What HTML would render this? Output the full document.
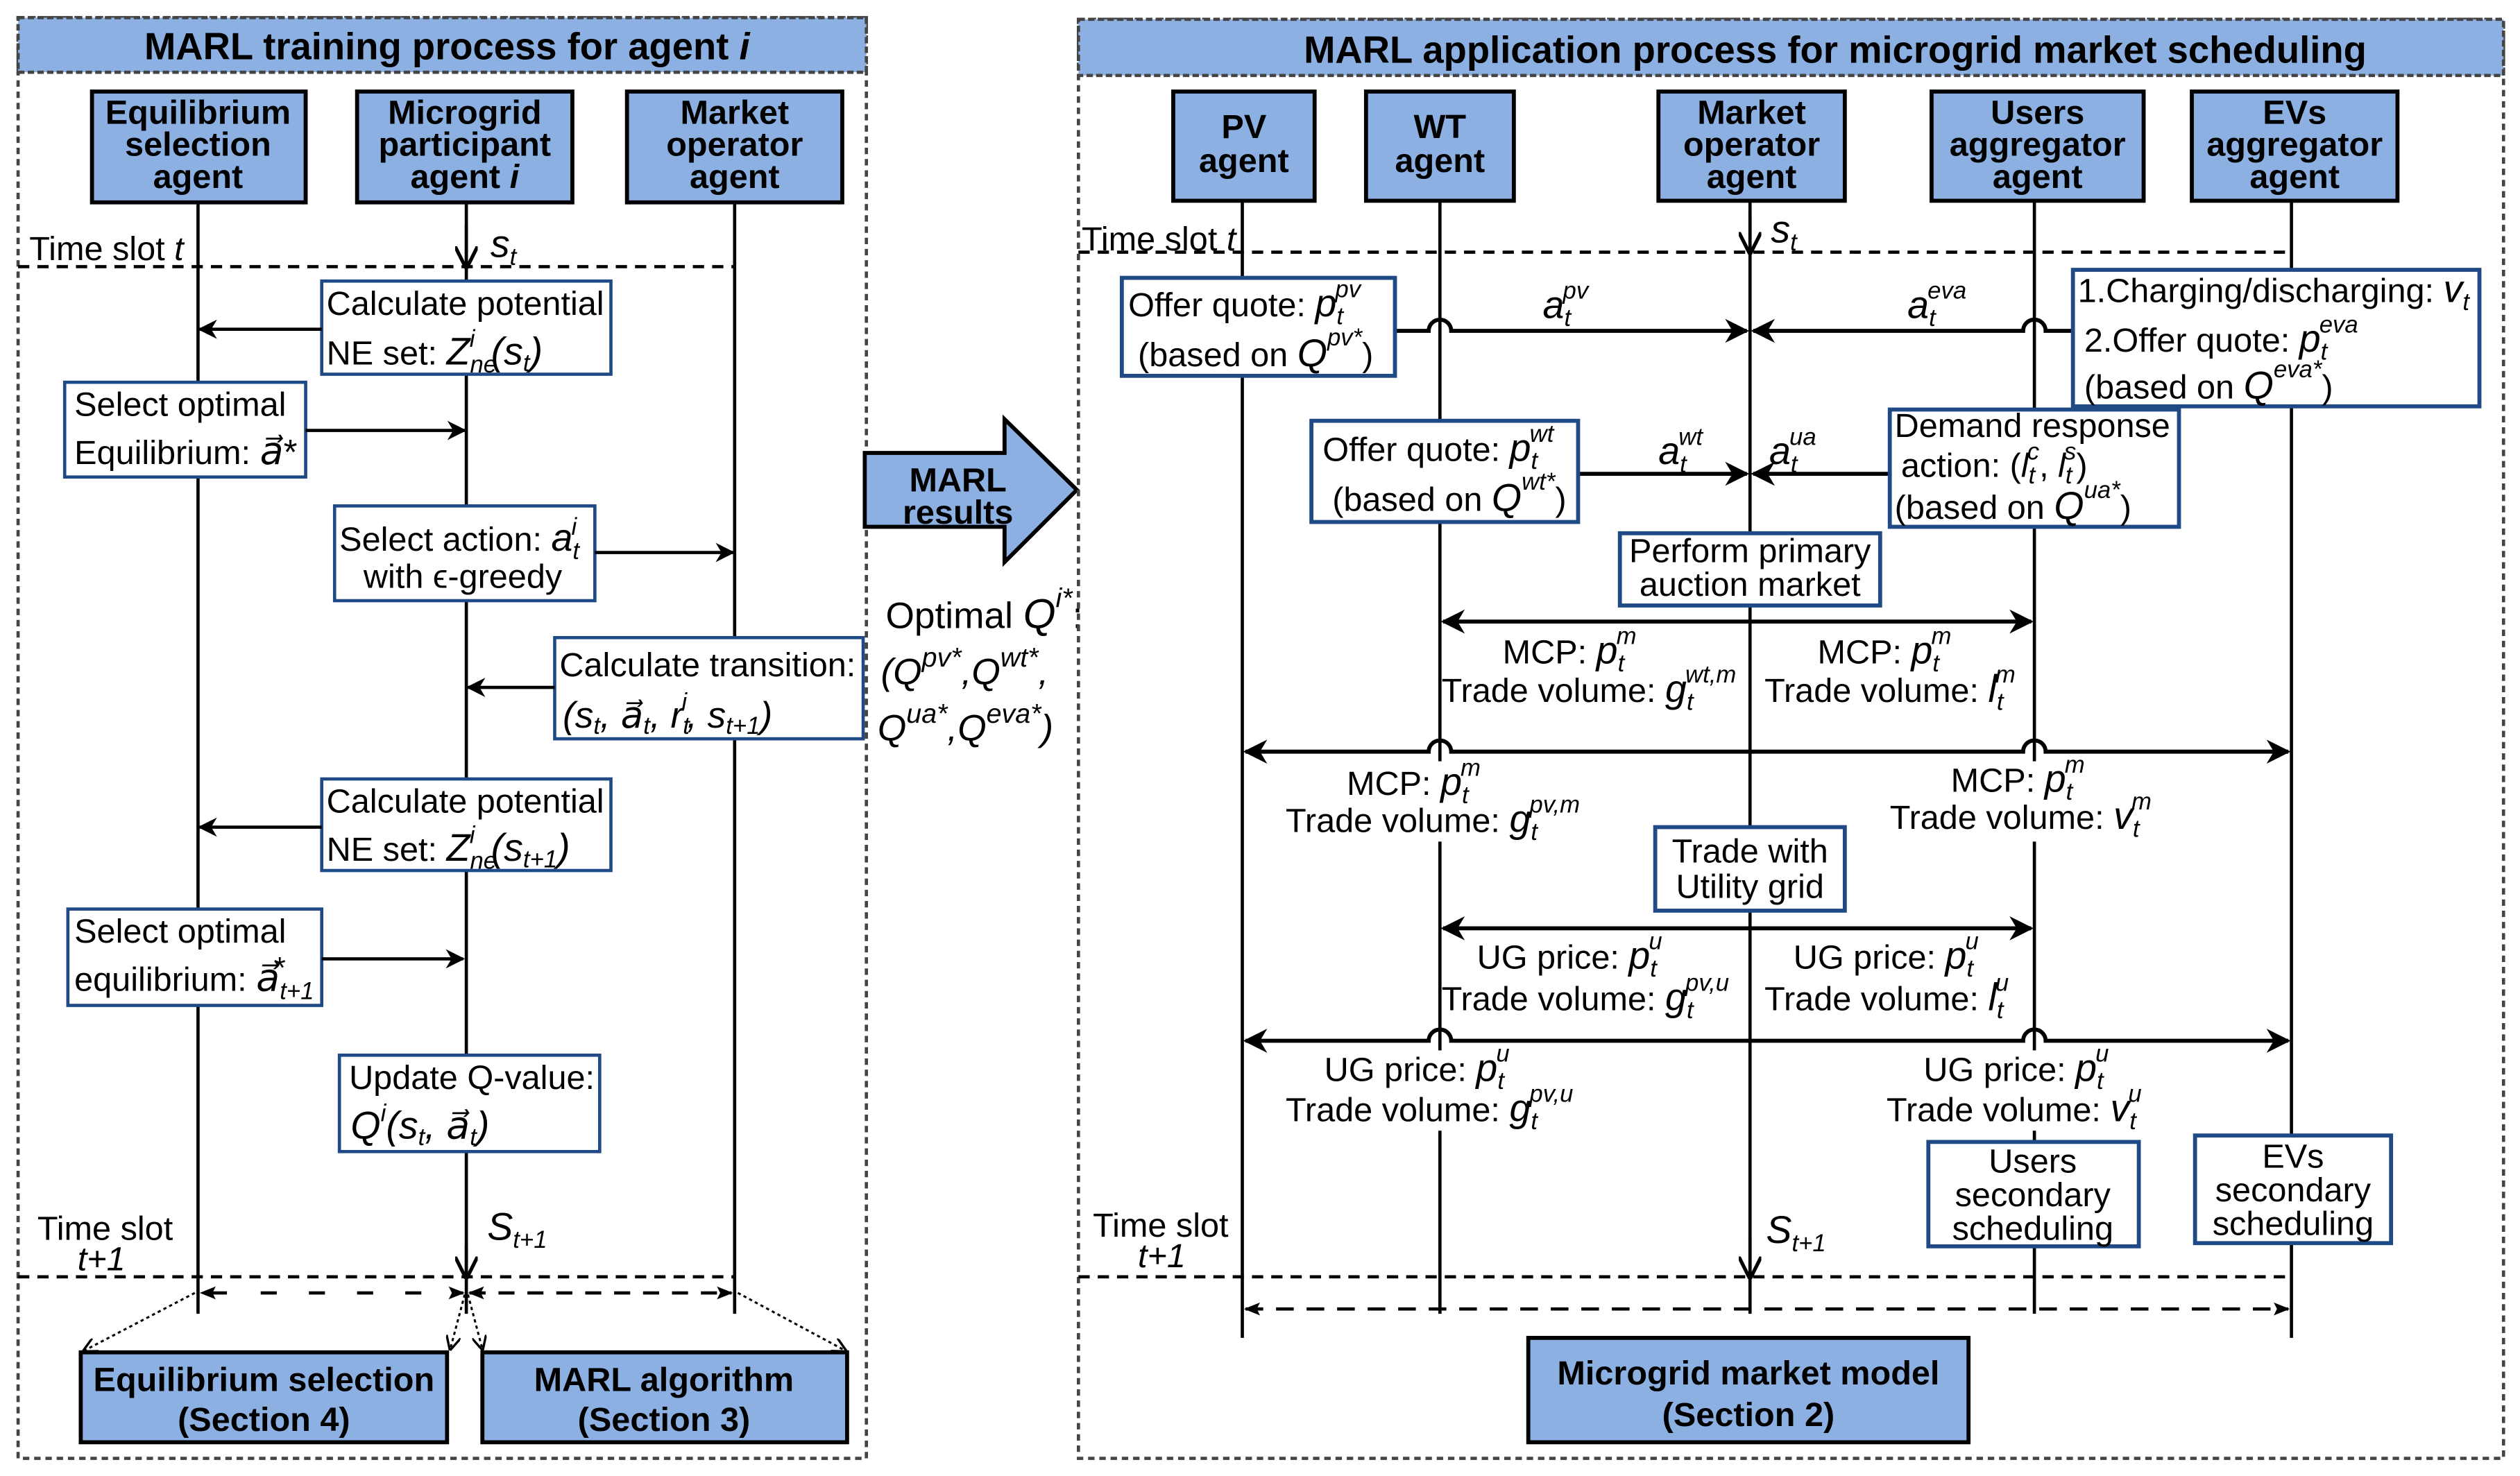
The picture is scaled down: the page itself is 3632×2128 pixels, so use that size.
<!DOCTYPE html>
<html><head><meta charset="utf-8"><style>
html,body{margin:0;padding:0;background:#fff;}
svg{display:block;}
text{font-family:"Liberation Sans",Arial,sans-serif;fill:#000;}
.b{font-weight:bold;}
.t{font-size:21px;}
.i{font-style:italic;}
.s{font-size:15px;font-style:italic;}
</style></head><body>
<svg width="3632" height="2128" viewBox="0 0 1568 919" xmlns="http://www.w3.org/2000/svg">
<defs>
<marker id="ar" viewBox="0 0 10 10" refX="9" refY="5" markerWidth="6" markerHeight="6" orient="auto-start-reverse"><path d="M0,0 L10,5 L0,10 L3,5 z" fill="#000"/></marker>
<marker id="vr" viewBox="0 0 10 10" refX="9" refY="5" markerWidth="7" markerHeight="7" orient="auto"><path d="M0,0 L10,5 L0,10" fill="none" stroke="#000" stroke-width="1.6"/></marker>
<marker id="sa" viewBox="0 0 10 10" refX="9" refY="5" markerWidth="5" markerHeight="5" orient="auto-start-reverse"><path d="M0,1 L10,5 L0,9 L2,5 z" fill="#000"/></marker>
</defs>
<rect width="1568" height="919" fill="#fff"/>

<!-- ===== LEFT PANEL ===== -->
<rect x="11" y="11" width="528" height="897" fill="none" stroke="#444" stroke-width="2" stroke-dasharray="4,3"/>
<rect x="11" y="11" width="528" height="34" fill="#8DB0E2" stroke="#444" stroke-width="2" stroke-dasharray="4,2"/>
<text x="278" y="37" text-anchor="middle" class="b" font-size="23.5">MARL training process for agent <tspan class="i">i</tspan></text>

<g fill="#8DB0E2" stroke="#000" stroke-width="2.5">
<rect x="57" y="57" width="133" height="69"/>
<rect x="222" y="57" width="134" height="69"/>
<rect x="390" y="57" width="134" height="69"/>
</g>
<g class="b" font-size="21" text-anchor="middle">
<text x="123" y="77">Equilibrium</text><text x="123" y="97">selection</text><text x="123" y="117">agent</text>
<text x="289" y="77">Microgrid</text><text x="289" y="97">participant</text><text x="289" y="117">agent <tspan class="i">i</tspan></text>
<text x="457" y="77">Market</text><text x="457" y="97">operator</text><text x="457" y="117">agent</text>
</g>
<g stroke="#000" stroke-width="2">
<line x1="123" y1="126" x2="123" y2="818"/>
<line x1="290" y1="126" x2="290" y2="818"/>
<line x1="457" y1="126" x2="457" y2="818"/>
</g>
<line x1="11" y1="166" x2="457" y2="166" stroke="#000" stroke-width="2" stroke-dasharray="7,5"/>
<text x="18" y="162" class="t">Time slot <tspan class="i">t</tspan></text>
<line x1="290" y1="140" x2="290" y2="166" stroke="#000" stroke-width="2" marker-end="url(#vr)"/>
<text x="305" y="160" class="i" font-size="24">s<tspan class="s" dy="5">t</tspan></text>

<g fill="#fff" stroke="#1F4A85" stroke-width="2">
<rect x="200" y="175" width="180" height="58"/>
<rect x="40" y="238" width="150" height="59"/>
<rect x="208" y="315" width="162" height="59"/>
<rect x="345" y="397" width="192" height="63"/>
<rect x="200" y="485" width="180" height="57"/>
<rect x="42" y="566" width="158" height="60"/>
<rect x="211" y="657" width="162" height="60"/>
</g>
<g stroke="#000" stroke-width="2">
<line x1="200" y1="205" x2="124" y2="205" marker-end="url(#ar)"/>
<line x1="190" y1="268" x2="289" y2="268" marker-end="url(#ar)"/>
<line x1="370" y1="344" x2="456" y2="344" marker-end="url(#ar)"/>
<line x1="345" y1="428" x2="291" y2="428" marker-end="url(#ar)"/>
<line x1="200" y1="515" x2="124" y2="515" marker-end="url(#ar)"/>
<line x1="200" y1="597" x2="288" y2="597" marker-end="url(#ar)"/>
</g>
<g class="t">
<text x="203" y="196">Calculate potential</text>
<text x="203" y="227">NE set: <tspan class="i" font-size="24">Z</tspan><tspan class="s" dy="5">ne</tspan><tspan class="s" dx="-17" dy="-16">i</tspan><tspan class="i" font-size="24" dx="10" dy="11">(s</tspan><tspan class="s" dy="4">t</tspan><tspan class="i" font-size="24" dy="-4">)</tspan></text>
<text x="46" y="259">Select optimal</text>
<text x="46" y="289">Equilibrium: <tspan class="i" font-size="24">a⃗</tspan><tspan font-size="22">*</tspan></text>
<text x="211" y="343">Select action: <tspan class="i" font-size="24">a</tspan><tspan class="s" dy="5">t</tspan><tspan class="s" dx="-5" dy="-15">i</tspan></text>
<text x="226" y="366">with ϵ-greedy</text>
<text x="348" y="421">Calculate transition:</text>
<text x="350" y="453" class="i" font-size="23">(s<tspan class="s" dy="4">t</tspan><tspan dy="-4">, a⃗</tspan><tspan class="s" dy="4">t</tspan><tspan dy="-4">, r</tspan><tspan class="s" dy="4">t</tspan><tspan class="s" dx="-5" dy="-15">i</tspan><tspan dy="11">, s</tspan><tspan class="s" dy="4">t+1</tspan><tspan dy="-4">)</tspan></text>
<text x="203" y="506">Calculate potential</text>
<text x="203" y="536">NE set: <tspan class="i" font-size="24">Z</tspan><tspan class="s" dy="5">ne</tspan><tspan class="s" dx="-17" dy="-16">i</tspan><tspan class="i" font-size="24" dx="10" dy="11">(s</tspan><tspan class="s" dy="4">t+1</tspan><tspan class="i" font-size="24" dy="-4">)</tspan></text>
<text x="46" y="587">Select optimal</text>
<text x="46" y="617">equilibrium: <tspan class="i" font-size="24">a⃗</tspan><tspan class="s" dy="5">t+1</tspan><tspan font-size="19" dx="-25" dy="-13">*</tspan></text>
<text x="217" y="678">Update Q-value:</text>
<text x="218" y="709" class="i" font-size="24">Q<tspan class="s" dy="-11">i</tspan><tspan dy="11">(s</tspan><tspan class="s" dy="4">t</tspan><tspan dy="-4">, a⃗</tspan><tspan class="s" dy="4">t</tspan><tspan dy="-4">)</tspan></text>
</g>
<line x1="290" y1="775" x2="290" y2="795" stroke="#000" stroke-width="2" marker-end="url(#vr)"/>
<text x="303" y="772" class="i" font-size="24">S<tspan class="s" dy="5">t+1</tspan></text>
<text x="23" y="772" class="t">Time slot</text>
<text x="48" y="791" class="t i">t+1</text>
<line x1="11" y1="795" x2="457" y2="795" stroke="#000" stroke-width="2" stroke-dasharray="7,5"/>
<g stroke="#000" stroke-width="2" stroke-dasharray="10,8">
<line x1="141" y1="805" x2="125" y2="805" marker-end="url(#sa)"/>
<line x1="150" y1="805" x2="288" y2="805" marker-end="url(#sa)" stroke-dasharray="0,12,10,8"/>
<line x1="292" y1="805" x2="455" y2="805" marker-start="url(#sa)" marker-end="url(#sa)"/>
</g>
<g stroke="#000" stroke-width="1.3" stroke-dasharray="2,2" fill="none">
<line x1="121" y1="805" x2="52" y2="841" marker-end="url(#vr)"/>
<line x1="289" y1="806" x2="280" y2="840" marker-end="url(#vr)"/>
<line x1="291" y1="806" x2="300" y2="840" marker-end="url(#vr)"/>
<line x1="459" y1="805" x2="526" y2="841" marker-end="url(#vr)"/>
</g>
<g fill="#8DB0E2" stroke="#000" stroke-width="2.5">
<rect x="50" y="842" width="228" height="56"/>
<rect x="300" y="842" width="227" height="56"/>
</g>
<g class="b" font-size="21" text-anchor="middle">
<text x="164" y="866">Equilibrium selection</text><text x="164" y="891">(Section 4)</text>
<text x="413" y="866">MARL algorithm</text><text x="413" y="891">(Section 3)</text>
</g>

<!-- ===== MIDDLE ===== -->
<path d="M538,282 L625,282 L625,261 L670,305 L625,350 L625,328 L538,328 Z" fill="#8DB0E2" stroke="#000" stroke-width="2.5"/>
<text x="596" y="306" text-anchor="middle" class="b" font-size="21">MARL</text>
<text x="596" y="326" text-anchor="middle" class="b" font-size="21">results</text>
<g font-size="23">
<text x="551" y="391">Optimal <tspan class="i" font-size="26">Q</tspan><tspan class="i" font-size="17" dy="-13">i*</tspan><tspan dy="13">:</tspan></text>
<text x="548" y="426" class="i">(Q<tspan font-size="17" dy="-11">pv*</tspan><tspan dy="11">,Q</tspan><tspan font-size="17" dy="-11">wt*</tspan><tspan dy="11">,</tspan></text>
<text x="546" y="461" class="i">Q<tspan font-size="17" dy="-11">ua*</tspan><tspan dy="11">,Q</tspan><tspan font-size="17" dy="-11">eva*</tspan><tspan dy="11">)</tspan></text>
</g>

<!-- ===== RIGHT PANEL ===== -->
<rect x="671" y="12" width="887" height="896" fill="none" stroke="#444" stroke-width="2" stroke-dasharray="4,3"/>
<rect x="671" y="12" width="887" height="35" fill="#8DB0E2" stroke="#444" stroke-width="2" stroke-dasharray="4,2"/>
<text x="1142" y="39" text-anchor="middle" class="b" font-size="23.5">MARL application process for microgrid market scheduling</text>

<g fill="#8DB0E2" stroke="#000" stroke-width="2.5">
<rect x="730" y="57" width="88" height="68"/>
<rect x="850" y="57" width="92" height="68"/>
<rect x="1032" y="57" width="116" height="68"/>
<rect x="1202" y="57" width="132" height="68"/>
<rect x="1364" y="57" width="128" height="68"/>
</g>
<g class="b" font-size="21" text-anchor="middle">
<text x="774" y="86">PV</text><text x="774" y="107">agent</text>
<text x="896" y="86">WT</text><text x="896" y="107">agent</text>
<text x="1090" y="77">Market</text><text x="1090" y="97">operator</text><text x="1090" y="117">agent</text>
<text x="1268" y="77">Users</text><text x="1268" y="97">aggregator</text><text x="1268" y="117">agent</text>
<text x="1428" y="77">EVs</text><text x="1428" y="97">aggregator</text><text x="1428" y="117">agent</text>
</g>
<g stroke="#000" stroke-width="2">
<line x1="773" y1="125" x2="773" y2="833"/>
<line x1="896" y1="125" x2="896" y2="818"/>
<line x1="1089" y1="125" x2="1089" y2="818"/>
<line x1="1266" y1="125" x2="1266" y2="818"/>
<line x1="1426" y1="125" x2="1426" y2="833"/>
</g>
<line x1="671" y1="157" x2="1426" y2="157" stroke="#000" stroke-width="2" stroke-dasharray="7,5"/>
<text x="673" y="156" class="t">Time slot <tspan class="i">t</tspan></text>
<line x1="1089" y1="132" x2="1089" y2="157" stroke="#000" stroke-width="2" marker-end="url(#vr)"/>
<text x="1102" y="151" class="i" font-size="24">s<tspan class="s" dy="5">t</tspan></text>

<!-- white backgrounds for labels breaking lifelines -->
<g fill="#fff">
<rect x="880" y="474" width="30" height="50"/>
<rect x="1250" y="474" width="30" height="50"/>
<rect x="880" y="654" width="30" height="50"/>
<rect x="1250" y="654" width="30" height="50"/>
</g>

<!-- arrows with hops -->
<g stroke="#000" stroke-width="2.5" fill="none">
<path d="M868,206 H889 A7,7 0 0 1 903,206 H1087" marker-end="url(#ar)"/>
<path d="M1290,206 H1273 A7,7 0 0 0 1259,206 H1091" marker-end="url(#ar)"/>
<line x1="982" y1="295" x2="1087" y2="295" marker-end="url(#ar)"/>
<line x1="1176" y1="295" x2="1091" y2="295" marker-end="url(#ar)"/>
<line x1="898" y1="387" x2="1264" y2="387" marker-start="url(#ar)" marker-end="url(#ar)"/>
<path d="M775,468 H889 A7,7 0 0 1 903,468 H1259 A7,7 0 0 1 1273,468 H1424" marker-start="url(#ar)" marker-end="url(#ar)"/>
<line x1="898" y1="578" x2="1264" y2="578" marker-start="url(#ar)" marker-end="url(#ar)"/>
<path d="M775,648 H889 A7,7 0 0 1 903,648 H1259 A7,7 0 0 1 1273,648 H1424" marker-start="url(#ar)" marker-end="url(#ar)"/>
</g>

<g fill="#fff" stroke="#1F4A85" stroke-width="2.5">
<rect x="698" y="173" width="170" height="61"/>
<rect x="1290" y="168" width="253" height="85"/>
<rect x="816" y="262" width="166" height="63"/>
<rect x="1176" y="255" width="180" height="73"/>
<rect x="1008" y="332" width="162" height="45"/>
<rect x="1030" y="515" width="118" height="52"/>
<rect x="1200" y="711" width="131" height="65"/>
<rect x="1366" y="707" width="122" height="67"/>
</g>
<g class="t">
<text x="702" y="197">Offer quote: <tspan class="i" font-size="24">p</tspan><tspan class="s" dy="5">t</tspan><tspan class="s" dx="-5" dy="-17">pv</tspan></text>
<text x="708" y="228">(based on <tspan class="i" font-size="24">Q</tspan><tspan class="s" dy="-13">pv*</tspan><tspan dy="13">)</tspan></text>
<text x="1293" y="188">1.Charging/discharging: <tspan class="i" font-size="24">v</tspan><tspan class="s" dy="5">t</tspan></text>
<text x="1297" y="219">2.Offer quote: <tspan class="i" font-size="24">p</tspan><tspan class="s" dy="5">t</tspan><tspan class="s" dx="-5" dy="-17">eva</tspan></text>
<text x="1297" y="248">(based on <tspan class="i" font-size="24">Q</tspan><tspan class="s" dy="-13">eva*</tspan><tspan dy="13">)</tspan></text>
<text x="823" y="287">Offer quote: <tspan class="i" font-size="24">p</tspan><tspan class="s" dy="5">t</tspan><tspan class="s" dx="-5" dy="-17">wt</tspan></text>
<text x="829" y="318">(based on <tspan class="i" font-size="24">Q</tspan><tspan class="s" dy="-13">wt*</tspan><tspan dy="13">)</tspan></text>
<text x="1179" y="272">Demand response</text>
<text x="1183" y="297">action: (<tspan class="i">l</tspan><tspan class="s" dy="4">t</tspan><tspan class="s" dx="-5" dy="-15">c</tspan><tspan dy="11">, </tspan><tspan class="i">l</tspan><tspan class="s" dy="4">t</tspan><tspan class="s" dx="-5" dy="-15">s</tspan><tspan dy="11">)</tspan></text>
<text x="1179" y="323">(based on <tspan class="i" font-size="24">Q</tspan><tspan class="s" dy="-13">ua*</tspan><tspan dy="13">)</tspan></text>
<text x="1089" y="350" text-anchor="middle">Perform primary</text>
<text x="1089" y="371" text-anchor="middle">auction market</text>
<text x="1089" y="537" text-anchor="middle">Trade with</text>
<text x="1089" y="559" text-anchor="middle">Utility grid</text>
<text x="1265" y="730" text-anchor="middle">Users</text>
<text x="1265" y="751" text-anchor="middle">secondary</text>
<text x="1265" y="772" text-anchor="middle">scheduling</text>
<text x="1427" y="727" text-anchor="middle">EVs</text>
<text x="1427" y="748" text-anchor="middle">secondary</text>
<text x="1427" y="769" text-anchor="middle">scheduling</text>
</g>
<!-- arrow labels -->
<g class="i" font-size="24">
<text x="960" y="198">a<tspan class="s" dy="5">t</tspan><tspan class="s" dx="-5" dy="-17">pv</tspan></text>
<text x="1187" y="198">a<tspan class="s" dy="5">t</tspan><tspan class="s" dx="-5" dy="-17">eva</tspan></text>
<text x="1032" y="289">a<tspan class="s" dy="5">t</tspan><tspan class="s" dx="-5" dy="-17">wt</tspan></text>
<text x="1101" y="289">a<tspan class="s" dy="5">t</tspan><tspan class="s" dx="-5" dy="-17">ua</tspan></text>
</g>
<g class="t">
<text x="935" y="413">MCP:  <tspan class="i" font-size="24">p</tspan><tspan class="s" dy="5">t</tspan><tspan class="s" dx="-5" dy="-17">m</tspan></text>
<text x="897" y="437">Trade volume: <tspan class="i" font-size="24">g</tspan><tspan class="s" dy="5">t</tspan><tspan class="s" dx="-5" dy="-17">wt,m</tspan></text>
<text x="1131" y="413">MCP:  <tspan class="i" font-size="24">p</tspan><tspan class="s" dy="5">t</tspan><tspan class="s" dx="-5" dy="-17">m</tspan></text>
<text x="1098" y="437">Trade volume: <tspan class="i" font-size="24">l</tspan><tspan class="s" dy="5">t</tspan><tspan class="s" dx="-5" dy="-17">m</tspan></text>
<text x="838" y="495">MCP:  <tspan class="i" font-size="24">p</tspan><tspan class="s" dy="5">t</tspan><tspan class="s" dx="-5" dy="-17">m</tspan></text>
<text x="800" y="518">Trade volume: <tspan class="i" font-size="24">g</tspan><tspan class="s" dy="5">t</tspan><tspan class="s" dx="-5" dy="-17">pv,m</tspan></text>
<text x="1214" y="493">MCP:  <tspan class="i" font-size="24">p</tspan><tspan class="s" dy="5">t</tspan><tspan class="s" dx="-5" dy="-17">m</tspan></text>
<text x="1176" y="516">Trade volume: <tspan class="i" font-size="24">v</tspan><tspan class="s" dy="5">t</tspan><tspan class="s" dx="-5" dy="-17">m</tspan></text>
<text x="919" y="603">UG price: <tspan class="i" font-size="24">p</tspan><tspan class="s" dy="5">t</tspan><tspan class="s" dx="-5" dy="-17">u</tspan></text>
<text x="897" y="629">Trade volume: <tspan class="i" font-size="24">g</tspan><tspan class="s" dy="5">t</tspan><tspan class="s" dx="-5" dy="-17">pv,u</tspan></text>
<text x="1116" y="603">UG price: <tspan class="i" font-size="24">p</tspan><tspan class="s" dy="5">t</tspan><tspan class="s" dx="-5" dy="-17">u</tspan></text>
<text x="1098" y="629">Trade volume: <tspan class="i" font-size="24">l</tspan><tspan class="s" dy="5">t</tspan><tspan class="s" dx="-5" dy="-17">u</tspan></text>
<text x="824" y="673">UG price: <tspan class="i" font-size="24">p</tspan><tspan class="s" dy="5">t</tspan><tspan class="s" dx="-5" dy="-17">u</tspan></text>
<text x="800" y="698">Trade volume: <tspan class="i" font-size="24">g</tspan><tspan class="s" dy="5">t</tspan><tspan class="s" dx="-5" dy="-17">pv,u</tspan></text>
<text x="1197" y="673">UG price: <tspan class="i" font-size="24">p</tspan><tspan class="s" dy="5">t</tspan><tspan class="s" dx="-5" dy="-17">u</tspan></text>
<text x="1174" y="698">Trade volume: <tspan class="i" font-size="24">v</tspan><tspan class="s" dy="5">t</tspan><tspan class="s" dx="-5" dy="-17">u</tspan></text>
</g>
<text x="680" y="770" class="t">Time slot</text>
<text x="708" y="789" class="t i">t+1</text>
<line x1="1089" y1="770" x2="1089" y2="795" stroke="#000" stroke-width="2" marker-end="url(#vr)"/>
<text x="1099" y="774" class="i" font-size="24">S<tspan class="s" dy="5">t+1</tspan></text>
<line x1="671" y1="795" x2="1426" y2="795" stroke="#000" stroke-width="2" stroke-dasharray="7,5"/>
<line x1="775" y1="815" x2="1424" y2="815" stroke="#000" stroke-width="2" stroke-dasharray="11,8" marker-start="url(#sa)" marker-end="url(#sa)"/>
<rect x="951" y="833" width="274" height="65" fill="#8DB0E2" stroke="#000" stroke-width="2.5"/>
<text x="1088" y="862" text-anchor="middle" class="b" font-size="21">Microgrid market model</text>
<text x="1088" y="888" text-anchor="middle" class="b" font-size="21">(Section 2)</text>
</svg>
</body></html>
